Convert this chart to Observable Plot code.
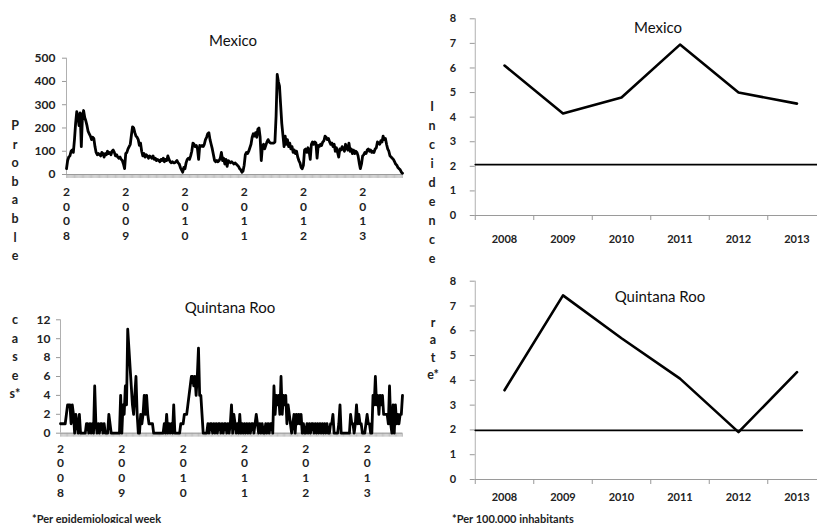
<!DOCTYPE html>
<html><head><meta charset="utf-8">
<script src="https://cdn.jsdelivr.net/npm/d3@7"></script>
<script src="https://cdn.jsdelivr.net/npm/@observablehq/plot@0.6"></script>
<style>
html,body{margin:0;padding:0;background:#fff;overflow:hidden;}
#root{position:relative;width:817px;height:523px;overflow:hidden;font-family:Lato,"Open Sans",sans-serif;background:#fff;}
.panel{position:absolute;}
.panel svg{max-width:none !important;}
.t{position:absolute;white-space:nowrap;color:#111;line-height:1;}
.ttl{font-size:15px;transform:translate(-50%,-50%);}
.lt{font-size:12.5px;font-weight:bold;transform:translate(-50%,-50%);color:#222;}
.fn{font-size:11px;font-weight:bold;color:#222;transform:translateY(-50%);}
</style></head><body><div id="root"></div>
<script>
const years = ["2008","2009","2010","2011","2012","2013"];
const mexicoTitle = "Mexico";
const qrooTitle = "Quintana Roo";

// Probable cases per epidemiological week, Mexico
const mex2008 = [25,60,75,80,100,105,95,150,220,270,250,210,265,120,250,275,245,230,210,185,175,165,150,160,155,120,95,85,90,85,80,95,90,75,90,85,100,90,95,85,100,105,95,80,85,75,70,75,65,60,45,25];
const mex2009 = [90,95,110,120,130,170,205,200,180,165,160,150,125,135,100,80,90,75,85,80,70,80,75,70,80,65,70,60,65,60,55,65,60,70,55,65,60,80,65,55,50,55,50,50,55,60,50,45,30,20,10,30];
const mex2010 = [25,50,65,70,65,80,100,135,130,120,125,110,65,125,120,125,120,130,150,160,175,180,150,130,110,85,60,55,60,55,60,70,95,60,70,45,65,35,60,55,50,55,50,45,50,45,40,35,25,20,10,15];
const mex2011 = [40,85,95,90,100,115,130,160,175,165,180,160,195,200,160,60,120,130,110,125,140,150,140,135,135,135,135,140,250,430,400,380,300,220,170,120,165,130,150,120,135,110,120,95,105,90,100,75,60,50,30,25];
const mex2012 = [40,105,110,95,115,100,65,130,140,130,140,135,70,125,120,130,125,140,145,165,160,150,155,140,130,135,120,130,100,115,95,75,110,105,120,110,100,130,115,105,135,100,110,90,105,90,100,95,80,50,25,45];
const mex2013 = [80,85,95,90,105,110,100,105,95,100,95,110,115,140,135,130,145,140,165,150,155,130,110,100,80,75,70,65,55,45,40,30,25,20,10,5];

// Probable cases per epidemiological week, Quintana Roo
const qr2008 = [1,1,1,1,1,2,3,3,3,1,3,2,0,2,1,0,2,0,0,0,0,0,1,1,0,1,0,1,0,5,1,0,1,0,1,1,0,1,0,0,0,2,1,0,0,0,0,0,0,0,0,4];
const qr2009 = [0,3,2,5,3,11,9,7,5,3,2,4,6,2,0,0,2,1,2,4,2,4,2,1,1,1,1,0,0,0,0,0,0,0,0,0,1,0,2,0,1,0,1,0,3,0,0,0,0,0,1,1];
const qr2010 = [1,2,2,2,3,4,5,6,6,5,6,4,6,9,4,4,2,0,0,0,0,1,0,1,1,0,1,0,1,0,1,1,0,1,0,1,1,0,1,0,1,3,0,2,1,0,1,0,2,0,1,0];
const qr2011 = [1,0,1,0,1,0,1,1,0,1,2,1,0,1,0,1,0,0,1,0,1,0,1,1,0,5,2,4,3,4,2,6,2,4,3,4,1,3,2,1,0,1,2,0,2,1,2,1,2,0,1,0];
const qr2012 = [0,1,0,1,0,1,1,0,1,0,1,0,1,0,1,0,1,0,1,0,0,1,1,2,0,0,0,0,1,3,0,0,0,0,0,0,0,0,2,1,1,0,1,3,1,2,1,1,0,0,0,1];
const qr2013 = [2,1,1,0,0,4,3,6,3,4,2,4,3,4,2,2,2,2,1,5,1,0,3,0,3,1,2,1,2,2,4];

// Incidence rate per 100,000 inhabitants
const mexicoRate = [6.1, 4.15, 4.8, 6.95, 5.0, 4.55];
const qrooRate = [3.6, 7.43, 5.7, 4.07, 1.91, 4.33];
const mexicoThreshold = 2.07;
const qrooThreshold = 1.98;
const mexicoThresholdSpan = [-0.5, 5.5];
const qrooThresholdSpan = [-0.5, 5.09];

const mexicoTicks = [0,100,200,300,400,500];
const qrooTicks = [0,2,4,6,8,10,12];
const rateTicks = [0,1,2,3,4,5,6,7,8];

const FONT = "Lato, 'Open Sans', sans-serif";
const root = document.getElementById("root");

function place(el, left, top, w, h) {
  const d = document.createElement("div");
  d.className = "panel";
  d.style.left = left + "px"; d.style.top = top + "px";
  d.style.width = w + "px"; d.style.height = h + "px";
  d.appendChild(el); root.appendChild(d);
}
function txt(cls, s, x, y) {
  const d = document.createElement("div");
  d.className = "t " + cls; d.textContent = s;
  d.style.left = x + "px"; d.style.top = y + "px";
  root.appendChild(d);
}

function weekly(values, yTicks, yMax, cfg) {
  const n = values.length;
  const idx = d3.range(n);
  const yearIdx = years.map((y, i) => i * 52);
  return Plot.plot({
    width: cfg.width, height: cfg.height,
    marginLeft: cfg.ml, marginRight: cfg.mr, marginTop: cfg.mt, marginBottom: cfg.mb,
    x: {domain: [0, n - 1]},
    y: {domain: [0, yMax]},
    style: {fontFamily: FONT, background: "transparent", overflow: "visible", maxWidth: "none"},
    marks: [
      Plot.axisX({ticks: idx, tickSize: 4, tickFormat: () => "", stroke: "#a8a8a8", strokeWidth: 0.7, label: null}),
      Plot.ruleY([0], {stroke: "#9a9a9a", strokeWidth: 1}),
      Plot.ruleX([0], {stroke: "#b0b0b0", strokeWidth: 1}),
      Plot.axisY({ticks: yTicks, tickSize: 4, tickPadding: cfg.tp, fontSize: 12, fontWeight: "bold", stroke: "#999", fill: "#222", label: null}),
      Plot.line(values, {x: (d, i) => i, y: d => d, stroke: "#000", strokeWidth: 2.8, strokeLinejoin: "round"}),
      Plot.text(yearIdx, {x: d => d, y: 0, text: (d, i) => years[i].split("").join("\n"), lineAnchor: "top", dy: cfg.ydy, lineHeight: 1.22, fontSize: 12, fontWeight: "bold", fill: "#222"})
    ]
  });
}

function rate(values, threshold, span, cfg) {
  const bounds = d3.range(7).map(i => i - 0.5);
  return Plot.plot({
    width: 410, height: cfg.height,
    marginLeft: 54.75, marginRight: 4.25, marginTop: cfg.mt, marginBottom: cfg.mb,
    x: {domain: [-0.5, 5.5]},
    y: {domain: [0, 8]},
    style: {fontFamily: FONT, background: "transparent", overflow: "visible", maxWidth: "none"},
    marks: [
      Plot.ruleY([0], {stroke: "#9a9a9a"}),
      Plot.ruleX([-0.5], {stroke: "#b0b0b0"}),
      Plot.axisY({ticks: rateTicks, tickSize: 5, tickPadding: 14, fontSize: 11, fontWeight: "bold", stroke: "#999", fill: "#222", label: null}),
      Plot.axisX({ticks: bounds, tickSize: 5, tickFormat: () => "", stroke: "#999", label: null}),
      Plot.text(years, {x: (d, i) => i, y: 0, text: d => d, dy: cfg.xdy, fontSize: 11, fontWeight: "bold", fill: "#222"}),
      Plot.line(span.map(x => ({x, y: threshold})), {x: "x", y: "y", stroke: "#000", strokeWidth: 1.6}),
      Plot.line(values, {x: (d, i) => i, y: d => d, stroke: "#000", strokeWidth: 2.6, strokeLinejoin: "round"})
    ]
  });
}

const mexWeekly = [].concat(mex2008, mex2009, mex2010, mex2011, mex2012, mex2013);
const qrWeekly = [].concat(qr2008, qr2009, qr2010, qr2011, qr2012, qr2013);

place(weekly(mexWeekly, mexicoTicks, 500, {width: 420, height: 260, ml: 66, mr: 18, mt: 57.7, mb: 86, tp: 7, ydy: 11}), 0, 0, 420, 260);
place(weekly(qrWeekly, qrooTicks, 12, {width: 420, height: 263, ml: 60, mr: 18, mt: 59.3, mb: 90.3, tp: 6, ydy: 9}), 0, 260, 420, 263);
place(rate(mexicoRate, mexicoThreshold, mexicoThresholdSpan, {height: 260, mt: 18.3, mb: 45, xdy: 24}), 420, 0, 410, 260);
place(rate(qrooRate, qrooThreshold, qrooThresholdSpan, {height: 263, mt: 20.7, mb: 44, xdy: 18}), 420, 260, 410, 263);

txt("ttl", mexicoTitle, 233, 40);
txt("ttl", qrooTitle, 230, 307);
txt("ttl", mexicoTitle, 658, 27);
txt("ttl", qrooTitle, 660, 296);

const leftLabelTop = ["P","r","o","b","a","b","l","e"];
const leftLabelBottom = ["c","a","s","e","s*"];
const rightLabelTop = ["I","n","c","i","d","e","n","c","e"];
const rightLabelBottom = ["r","a","t","e*"];
leftLabelTop.forEach((c, i) => txt("lt", c, 15, 126 + i * 18.6));
leftLabelBottom.forEach((c, i) => txt("lt", c, 15, 320 + i * 18.5));
rightLabelTop.forEach((c, i) => txt("lt", c, 432, 107 + i * 19));
rightLabelBottom.forEach((c, i) => txt("lt", c, 433, 323 + i * 17.3));

txt("fn", "*Per epidemiological week", 32, 518);
txt("fn", "*Per 100,000 inhabitants", 452, 518);
</script></body></html>
